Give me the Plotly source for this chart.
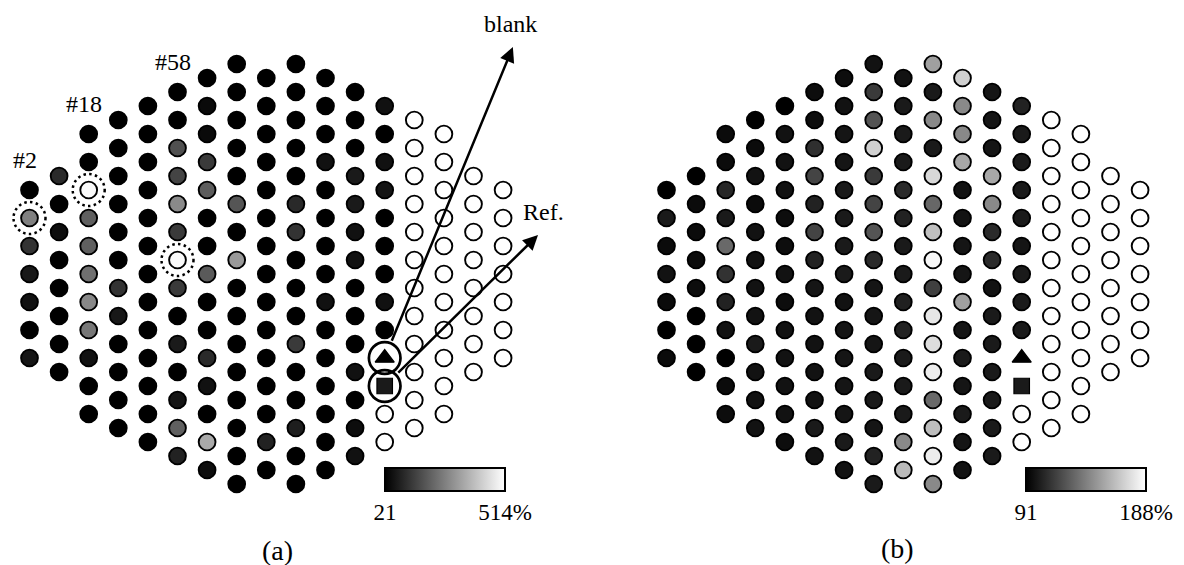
import plotly.graph_objects as go

# ---------------------------------------------------------------------------
# Detector array: 17 columns on a staggered grid, odd columns half a row lower.
# First (top) row index of every column.
COL_FIRST_ROW = [4, 3, 2, 1, 1, 0, 0, -1, 0, -1, 0, 0, 1, 1, 2, 3, 4]

# Cells occupied by the blank channel and the reference channel
BLANK_CELL = (12, 10)
REF_CELL = (12, 11)

# (a) relative signal per detector [%], column by column, top to bottom
SIG_A = [
    [21, 268, 120, 67, 54, 21, 62],
    [102, 21, 46, 21, 21, 21, 21, 21],
    [21, 21, 505, 207, 207, 238, 284, 251, 54, 21, 21],
    [21, 21, 21, 21, 21, 21, 120, 67, 21, 21, 21, 21],
    [21, 21, 21, 21, 21, 21, 21, 21, 21, 21, 21, 21, 21],
    [21, 21, 176, 152, 288, 133, 505, 133, 21, 71, 21, 62, 207, 87],
    [21, 40, 40, 133, 200, 21, 21, 195, 21, 21, 102, 54, 21, 350, 46],
    [21, 21, 21, 21, 21, 185, 21, 317, 21, 21, 21, 21, 21, 21, 21, 21],
    [21, 21, 21, 21, 21, 21, 21, 21, 21, 21, 21, 21, 21, 87, 21],
    [21, 21, 21, 21, 21, 100, 120, 21, 21, 21, 133, 21, 21, 79, 21, 21],
    [21, 21, 21, 54, 21, 21, 21, 21, 54, 21, 21, 21, 21, 21, 21],
    [21, 21, 21, 71, 71, 54, 54, 21, 21, 21, 54, 21, 46, 54],
    [54, 21, 54, 62, 21, 21, 21, 54, 21, None, None, 514, 514],
    [514, 514, 514, 514, 514, 514, 514, 514, 514, 514, 514, 514],
    [514, 514, 514, 514, 514, 514, 514, 514, 514, 514, 514],
    [514, 514, 514, 514, 514, 514, 514, 514],
    [514, 514, 514, 514, 514, 514, 514],
]
BLANK_A = 21
REF_A = 71
RANGE_A = (21, 514)
TICKS_A = ["21", "514%"]

# (b) relative signal per detector [%]
SIG_B = [
    [91, 101, 95, 98, 95, 91, 95],
    [91, 95, 95, 95, 96, 91, 91, 91],
    [95, 95, 106, 101, 131, 110, 104, 98, 91, 95, 96],
    [91, 95, 98, 95, 98, 98, 98, 98, 101, 98, 98, 98],
    [91, 98, 98, 98, 96, 96, 98, 96, 98, 98, 98, 98, 96],
    [96, 96, 109, 117, 104, 117, 104, 99, 98, 98, 98, 98, 101, 98],
    [96, 98, 99, 99, 101, 101, 101, 101, 98, 99, 99, 99, 99, 101, 98],
    [98, 113, 123, 170, 113, 117, 123, 107, 99, 99, 99, 101, 101, 99, 104, 101],
    [98, 101, 101, 101, 107, 104, 101, 101, 103, 104, 101, 101, 101, 143, 162],
    [152, 101, 143, 101, 173, 130, 164, 185, 115, 179, 175, 181, 131, 163, 181, 143],
    [170, 143, 143, 155, 98, 98, 99, 99, 152, 99, 101, 99, 101, 99, 98],
    [99, 99, 99, 155, 143, 107, 107, 98, 101, 101, 101, 101, 101, 101],
    [104, 101, 101, 101, 101, 99, 101, 101, 101, None, None, 188, 188],
    [188, 188, 188, 188, 188, 188, 188, 188, 188, 188, 188, 188],
    [188, 188, 188, 188, 188, 188, 188, 188, 188, 188, 188],
    [188, 188, 188, 188, 188, 188, 188, 188],
    [188, 188, 188, 188, 188, 188, 188],
]
BLANK_B = 91
REF_B = 101
RANGE_B = (91, 188)
TICKS_B = ["91", "188%"]

# Detectors singled out in panel (a)
MARKED = [2, 18, 58]

# ---------------------------------------------------------------------------
W, H = 1184, 565
COL_PX, ROW_PX = 29.6, 28.0          # grid pitch in pixels
ORIGIN_A, ORIGIN_B = 29.5, 666.5     # pixel x of column 0 in each panel
ROW0_PX = 78.0                        # pixel y of row 0
CBAR_CENTER_A, CBAR_CENTER_B = 445, 1086
SERIF = "Liberation Serif, Times New Roman, serif"
GRAY = [[0.0, "#000000"], [1.0, "#ffffff"]]


def row_y(j, r):
    return r + 0.5 * (j % 2)


def grid(cols, blank, ref):
    """Positions, values and marker styles for every cell of one panel."""
    xs, ys, vs, symbols, sizes, widths = [], [], [], [], [], []
    for j, col in enumerate(cols):
        for k, v in enumerate(col):
            r = COL_FIRST_ROW[j] + k
            if (j, r) == BLANK_CELL:
                v, sym, size, lw = blank, "triangle-up", 16.5, 1.4
            elif (j, r) == REF_CELL:
                v, sym, size, lw = ref, "square", 15.5, 1.2
            else:
                sym, size, lw = "circle", 16.8, 1.9
            xs.append(j)
            ys.append(row_y(j, r))
            vs.append(v)
            symbols.append(sym)
            sizes.append(size)
            widths.append(lw)
    return xs, ys, vs, symbols, sizes, widths


def locate(cols, number):
    n = 0
    for j, col in enumerate(cols):
        for k in range(len(col)):
            n += 1
            if n == number:
                return j, row_y(j, COL_FIRST_ROW[j] + k)
    raise ValueError(number)


def colorbar(center_px, lo, hi, labels):
    return dict(
        orientation="h", lenmode="pixels", len=120, thickness=23,
        x=center_px / W, xanchor="center", y=1 - 468 / H, yanchor="top",
        xpad=0, ypad=0, outlinecolor="black", outlinewidth=2,
        tickvals=[lo, hi], ticktext=labels, ticks="",
        tickfont=dict(family=SERIF, size=23, color="black"),
    )


fig = go.Figure()
panels = [
    (SIG_A, BLANK_A, REF_A, RANGE_A, TICKS_A, "x", "y", CBAR_CENTER_A),
    (SIG_B, BLANK_B, REF_B, RANGE_B, TICKS_B, "x2", "y2", CBAR_CENTER_B),
]
for cols, blank, ref, (lo, hi), labels, xa, ya, bar_center in panels:
    xs, ys, vs, symbols, sizes, widths = grid(cols, blank, ref)
    fig.add_trace(go.Scatter(
        x=xs, y=ys, mode="markers", xaxis=xa, yaxis=ya, hoverinfo="skip",
        marker=dict(symbol=symbols, size=sizes, color=vs, colorscale=GRAY,
                    cmin=lo, cmax=hi, opacity=1,
                    line=dict(color="black", width=widths), showscale=True,
                    colorbar=colorbar(bar_center, lo, hi, labels)),
    ))

shapes = []
annotations = []


def ring(x, y, radius, width, dash):
    return dict(type="circle", xref="x", yref="y", xsizemode="pixel", ysizemode="pixel",
                xanchor=x, yanchor=y, x0=-radius, x1=radius, y0=-radius, y1=radius,
                line=dict(color="black", width=width, dash=dash), layer="above")


# dotted rings and labels for the marked detectors
for num in MARKED:
    j, y = locate(SIG_A, num)
    shapes.append(ring(j, y, 16, 2.5, "2.5px,3.3px"))
    annotations.append(dict(
        x=j, y=row_y(j, COL_FIRST_ROW[j]), xref="x", yref="y", text=f"#{num}",
        showarrow=False, xshift=-5, yshift=30,
        font=dict(family=SERIF, size=24, color="black"),
    ))

# circles around blank and reference channels with pointer arrows
TIPS = {"blank": (16.33, -1.107), "Ref.": (17.18, 5.607)}
for cell, name in [(BLANK_CELL, "blank"), (REF_CELL, "Ref.")]:
    cx, cy = cell[0], row_y(cell[0], cell[1])
    shapes.append(ring(cx, cy, 15.8, 2.7, "solid"))
    tx, ty = TIPS[name]
    annotations.append(dict(
        x=tx, y=ty, ax=cx, ay=cy, xref="x", yref="y", axref="x", ayref="y",
        text="", showarrow=True, arrowhead=2, arrowsize=1.2, arrowwidth=2.5,
        arrowcolor="black", startstandoff=17, standoff=0,
    ))
    annotations.append(dict(
        x=tx, y=ty, xref="x", yref="y", text=name, showarrow=False,
        yanchor="bottom", yshift=8, xshift=-2 if name == "blank" else 5,
        font=dict(family=SERIF, size=24, color="black"),
    ))

# panel captions
for text, px, py in [("(a)", 260, 550), ("(b)", 916, 548)]:
    annotations.append(dict(
        x=px / W, y=1 - py / H, xref="paper", yref="paper", text=text,
        showarrow=False, yanchor="middle",
        font=dict(family=SERIF, size=28, color="black"),
    ))

y_range = [(H - ROW0_PX) / ROW_PX, -ROW0_PX / ROW_PX]
axis_style = dict(visible=False, showgrid=False, zeroline=False, fixedrange=True)
fig.update_layout(
    width=W, height=H, margin=dict(l=0, r=0, t=0, b=0),
    paper_bgcolor="white", plot_bgcolor="white", showlegend=False,
    xaxis=dict(domain=[0, 0.5], range=[-ORIGIN_A / COL_PX, (W / 2 - ORIGIN_A) / COL_PX], anchor="y", **axis_style),
    yaxis=dict(domain=[0, 1], range=y_range, anchor="x", **axis_style),
    xaxis2=dict(domain=[0.5, 1], range=[(W / 2 - ORIGIN_B) / COL_PX, (W - ORIGIN_B) / COL_PX], anchor="y2", **axis_style),
    yaxis2=dict(domain=[0, 1], range=y_range, anchor="x2", **axis_style),
    shapes=shapes,
    annotations=annotations,
)

fig.write_html("out.html")
